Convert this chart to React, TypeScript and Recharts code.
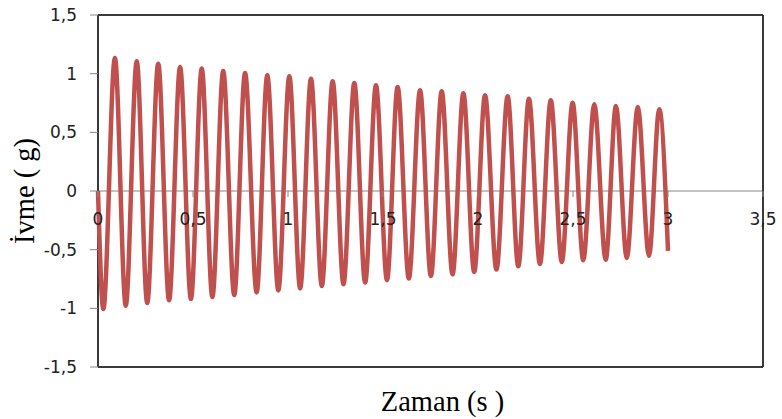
import React from "react";
import { LineChart, Line, XAxis, YAxis, ReferenceLine, Label } from "recharts";

// Time (s) and acceleration (g) of each crest
const peakTimes = [0.089, 0.204, 0.317, 0.432, 0.546, 0.659, 0.774, 0.891, 1.007, 1.121, 1.235, 1.349, 1.463, 1.577, 1.695, 1.809, 1.923, 2.037, 2.156, 2.268, 2.383, 2.498, 2.612, 2.726, 2.841, 2.954];
const peakValues = [1.134, 1.106, 1.085, 1.057, 1.043, 1.023, 1.006, 0.986, 0.978, 0.957, 0.935, 0.921, 0.901, 0.887, 0.858, 0.85, 0.833, 0.816, 0.807, 0.787, 0.773, 0.753, 0.739, 0.725, 0.716, 0.697];
// Time (s) and acceleration (g) of each trough
const troughTimes = [0.028, 0.146, 0.259, 0.374, 0.489, 0.602, 0.717, 0.835, 0.949, 1.064, 1.178, 1.292, 1.406, 1.521, 1.636, 1.752, 1.866, 1.98, 2.097, 2.212, 2.326, 2.441, 2.554, 2.672, 2.783, 2.9];
const troughValues = [-1.006, -0.978, -0.955, -0.932, -0.921, -0.904, -0.887, -0.864, -0.847, -0.83, -0.81, -0.795, -0.78, -0.76, -0.745, -0.725, -0.71, -0.69, -0.67, -0.642, -0.622, -0.605, -0.591, -0.586, -0.571, -0.552];
// First and last samples
const startPoint = { t: 0, a: 0 };
const endPoint = { t: 3.0, a: -0.51 };

const xTicks = [0, 0.5, 1, 1.5, 2, 2.5, 3, 3.5];
const yTicks = [-1.5, -1, -0.5, 0, 0.5, 1, 1.5];
const xLabel = "Zaman (s )";
const yLabel = "İvme ( g)";

const data = [
  startPoint,
  ...peakTimes.map((t, i) => ({ t, a: peakValues[i] })),
  ...troughTimes.map((t, i) => ({ t, a: troughValues[i] })),
  endPoint,
].sort((p, q) => p.t - q.t);

const W = 782;
const H = 419;
const MARGIN = { top: 15, right: 19, bottom: 22, left: 0 };
const Y_AXIS_W = 98;
const X_AXIS_H = 30;
const PLOT_H = H - MARGIN.top - MARGIN.bottom - X_AXIS_H;
const X_MIN = 0;
const X_MAX = 3.5;
const Y_MIN = -1.5;
const Y_MAX = 1.5;
const ZERO_SHIFT = (PLOT_H * (0 - Y_MIN)) / (Y_MAX - Y_MIN);

const comma = (v: number) => String(v).replace(".", ",");
const TICK_FONT = "'DejaVu Sans', Verdana, sans-serif";
const TITLE_FONT = "'Liberation Serif', 'Times New Roman', serif";
const BORDER = "#3a3a3a";

const XTick = (props: any) => {
  const { x, y, payload } = props;
  const y0 = y - ZERO_SHIFT;
  return (
    <g>
      <line x1={x} x2={x} y1={y0} y2={y0 + 6} stroke="#868686" strokeWidth={1} />
      <text x={x} y={y0 + 34} textAnchor="middle" fontSize={17} fontFamily={TICK_FONT} fill="#222">
        {comma(payload.value)}
      </text>
    </g>
  );
};

export default function App() {
  return (
    <div style={{ position: "absolute", left: 0, top: 0, width: W, height: H, background: "#fff" }}>
      <LineChart width={W} height={H} data={data} margin={MARGIN}>
        <ReferenceLine y={0} stroke="#868686" strokeWidth={1} />
        <ReferenceLine y={Y_MAX} stroke={BORDER} strokeWidth={2} ifOverflow="visible" />
        <ReferenceLine y={Y_MIN} stroke={BORDER} strokeWidth={2} ifOverflow="visible" />
        <ReferenceLine x={X_MIN} stroke={BORDER} strokeWidth={2} ifOverflow="visible" />
        <ReferenceLine x={X_MAX} stroke={BORDER} strokeWidth={2} ifOverflow="visible" />
        <XAxis
          dataKey="t"
          type="number"
          domain={[X_MIN, X_MAX]}
          ticks={xTicks}
          height={X_AXIS_H}
          axisLine={false}
          tickLine={false}
          tickSize={0}
          tickMargin={0}
          tick={<XTick />}
          interval={0}
        >
          <Label
            content={(p: any) => {
              const vb = p.viewBox;
              return (
                <text x={vb.x + vb.width / 2 + 12} y={411} textAnchor="middle" fontSize={28.5} fontFamily={TITLE_FONT} fill="#000">
                  {xLabel}
                </text>
              );
            }}
          />
        </XAxis>
        <YAxis
          type="number"
          domain={[Y_MIN, Y_MAX]}
          ticks={yTicks}
          width={Y_AXIS_W}
          axisLine={false}
          tickSize={8}
          tickMargin={13}
          tickLine={{ stroke: "#868686" }}
          tickFormatter={comma}
          tick={{ fontSize: 17, fontFamily: TICK_FONT, fill: "#222" }}
          interval={0}
        >
          <Label
            content={(p: any) => {
              const vb = p.viewBox;
              const cy = vb.y + vb.height / 2;
              return (
                <text x={34} y={cy} transform={`rotate(-90 34 ${cy})`} textAnchor="middle" fontSize={28.5} fontFamily={TITLE_FONT} fill="#000">
                  {yLabel}
                </text>
              );
            }}
          />
        </YAxis>
        <Line type="monotone" dataKey="a" stroke="#C0504D" strokeWidth={4.5} dot={false} isAnimationActive={false} />
      </LineChart>
    </div>
  );
}
